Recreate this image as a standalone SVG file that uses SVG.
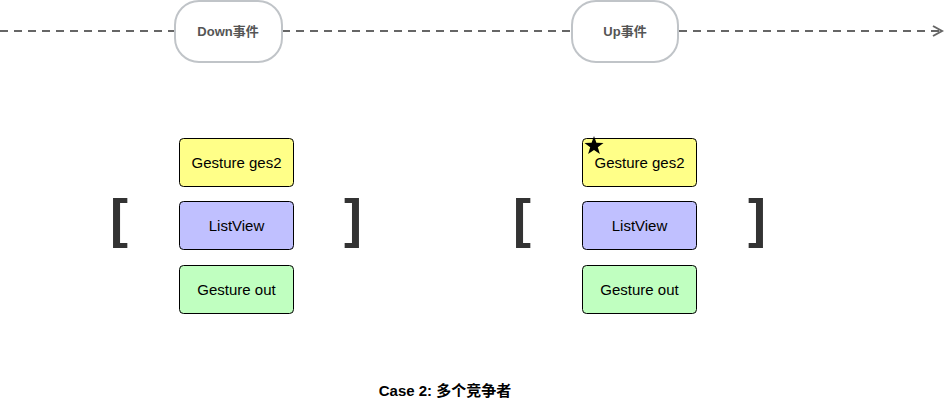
<svg xmlns="http://www.w3.org/2000/svg" width="946" height="407" viewBox="0 0 946 407">
<style>
.ev{fill:#fff;stroke:#c0c4c8;stroke-width:2}
.evt{font:bold 13px "Liberation Sans","Noto Sans CJK SC",sans-serif;fill:#555;text-anchor:middle}
.b{stroke:#000;stroke-width:1}
.t{font:15px "Liberation Sans",sans-serif;fill:#000;text-anchor:middle}
.br{font:bold 54px "Liberation Sans",sans-serif;fill:#333;text-anchor:middle}
.dash{stroke:#666;stroke-width:2;stroke-dasharray:8 6;fill:none}
</style>
<defs><marker id="ar" markerWidth="12" markerHeight="12" refX="10" refY="6" orient="auto" markerUnits="userSpaceOnUse"><path d="M1,1 L10,6 L1,11" fill="none" stroke="#666" stroke-width="2"/></marker></defs>
<g id="connectors">
<path class="dash" d="M0,31 H174"/>
<path class="dash" d="M282,31 H571"/>
<path class="dash" d="M679,31 H942" marker-end="url(#ar)"/>
</g>
<g id="down"><rect class="ev" x="175" y="1" width="107" height="61" rx="24"/><text class="evt" x="228" y="36">Down事件</text></g>
<g id="up"><rect class="ev" x="572" y="1" width="106" height="61" rx="24"/><text class="evt" x="625" y="36">Up事件</text></g>
<g id="l-ges2"><rect class="b" x="179.500" y="138.500" width="114" height="48" rx="4" fill="#ffff88"/><text class="t" x="236.500" y="168">Gesture ges2</text></g>
<g id="l-list"><rect class="b" x="179.500" y="201.500" width="114" height="48" rx="4" fill="#c0c0ff"/><text class="t" x="236.500" y="231">ListView</text></g>
<g id="l-out"><rect class="b" x="179.500" y="265.500" width="114" height="48" rx="4" fill="#c0ffc0"/><text class="t" x="236.500" y="295">Gesture out</text></g>
<g id="r-ges2"><rect class="b" x="582.500" y="138.500" width="114" height="48" rx="4" fill="#ffff88"/><text class="t" x="639.500" y="168">Gesture ges2</text>
<polygon points="594,136 596.400,142.700 603.500,142.900 597.800,147.200 599.900,154 594,150 588.100,154 590.200,147.200 584.500,142.900 591.600,142.700" fill="#000"/></g>
<g id="r-list"><rect class="b" x="582.500" y="201.500" width="114" height="48" rx="4" fill="#c0c0ff"/><text class="t" x="639.500" y="231">ListView</text></g>
<g id="r-out"><rect class="b" x="582.500" y="265.500" width="114" height="48" rx="4" fill="#c0ffc0"/><text class="t" x="639.500" y="295">Gesture out</text></g>
<g id="brackets">
<text class="br" x="119" y="237">[</text><text class="br" x="353" y="237">]</text>
<text class="br" x="522" y="237">[</text><text class="br" x="757" y="237">]</text>
</g>
<text x="445" y="396" style="font:bold 15px 'Liberation Sans','Noto Sans CJK SC',sans-serif;text-anchor:middle">Case 2: 多个竞争者</text>
</svg>
